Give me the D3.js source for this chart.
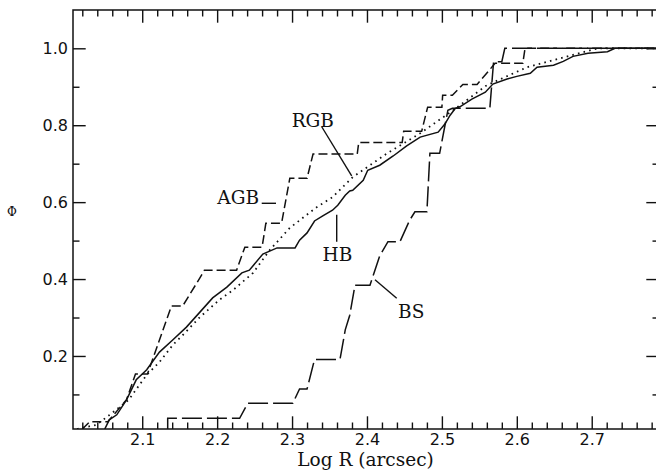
<!DOCTYPE html>
<html>
<head>
<meta charset="utf-8">
<script src="https://cdn.jsdelivr.net/npm/d3@7"></script>
<style>
  html, body { margin: 0; padding: 0; background: #fff; }
  svg { display: block; }
</style>
</head>
<body>
<svg id="chart" width="656" height="470"></svg>
<script>
// ---------------- data ----------------
const xMajorTicks = [2.1, 2.2, 2.3, 2.4, 2.5, 2.6, 2.7];
const xMinorTicks = [2.02, 2.04, 2.06, 2.08, 2.12, 2.14, 2.16, 2.18, 2.22, 2.24, 2.26, 2.28,
  2.32, 2.34, 2.36, 2.38, 2.42, 2.44, 2.46, 2.48, 2.52, 2.54, 2.56, 2.58,
  2.62, 2.64, 2.66, 2.68, 2.72, 2.74, 2.76, 2.78];
const yMajorTicks = [0.2, 0.4, 0.6, 0.8, 1.0];
const yMinorTicks = [0.1, 0.3, 0.5, 0.7, 0.9];

// RGB cumulative distribution (dotted)
const rgb = [[2.013,0.010],[2.039,0.021],[2.060,0.052],[2.082,0.086],[2.106,0.151],[2.123,0.184],
  [2.141,0.229],[2.157,0.260],[2.177,0.301],[2.203,0.346],[2.221,0.371],[2.248,0.416],
  [2.270,0.475],[2.297,0.533],[2.333,0.587],[2.354,0.613],[2.381,0.665],[2.427,0.727],
  [2.471,0.779],[2.515,0.839],[2.560,0.904],[2.614,0.951],[2.658,0.974],[2.702,0.997],
  [2.711,1.0],[2.79,1.0]];

// HB cumulative distribution (solid)
const hb = [[2.050,0.010],[2.056,0.034],[2.066,0.047],[2.079,0.086],[2.092,0.138],[2.106,0.164],
  [2.123,0.210],[2.141,0.242],[2.159,0.275],[2.177,0.314],[2.194,0.351],[2.213,0.379],
  [2.233,0.416],[2.243,0.423],[2.261,0.465],[2.280,0.481],[2.304,0.481],[2.310,0.501],
  [2.320,0.520],[2.330,0.551],[2.341,0.564],[2.354,0.579],[2.361,0.592],[2.371,0.618],
  [2.377,0.629],[2.381,0.631],[2.395,0.657],[2.401,0.683],[2.417,0.696],[2.435,0.720],
  [2.453,0.746],[2.471,0.769],[2.495,0.782],[2.504,0.803],[2.511,0.826],[2.518,0.844],
  [2.524,0.848],[2.540,0.868],[2.558,0.886],[2.568,0.907],[2.587,0.920],[2.600,0.927],
  [2.618,0.935],[2.627,0.951],[2.649,0.956],[2.662,0.966],[2.675,0.979],[2.695,0.987],
  [2.721,0.991],[2.731,1.0],[2.79,1.0]];

// AGB cumulative distribution (short dashes)
const agb = [[2.020,0.010],[2.030,0.029],[2.054,0.029],[2.079,0.086],[2.091,0.153],[2.107,0.153],
  [2.139,0.330],[2.154,0.330],[2.177,0.403],[2.183,0.423],[2.226,0.423],[2.237,0.483],
  [2.260,0.483],[2.265,0.545],[2.286,0.545],[2.297,0.662],[2.320,0.662],[2.328,0.725],
  [2.387,0.725],[2.389,0.755],[2.447,0.755],[2.449,0.784],[2.473,0.784],[2.481,0.847],
  [2.500,0.847],[2.501,0.878],[2.514,0.878],[2.528,0.906],[2.547,0.906],[2.571,0.961],
  [2.608,0.961],[2.611,1.0],[2.79,1.0]];

// BS cumulative distribution (long dashes)
const bs = [[2.134,0.010],[2.134,0.038],[2.230,0.038],[2.241,0.077],[2.301,0.077],[2.310,0.114],
  [2.320,0.114],[2.330,0.191],[2.364,0.191],[2.371,0.268],[2.377,0.306],[2.384,0.384],
  [2.404,0.384],[2.417,0.460],[2.428,0.497],[2.444,0.497],[2.457,0.553],[2.464,0.575],
  [2.480,0.575],[2.484,0.727],[2.497,0.727],[2.508,0.839],[2.514,0.844],[2.564,0.844],
  [2.569,0.965],[2.580,0.965],[2.584,1.0],[2.79,1.0]];

// annotation labels and leader lines [x1, y1, x2, y2] in data units
const labelTexts = ["RGB", "AGB", "HB", "BS"];
const labelPos = [[2.3277, 0.796], [2.2281, 0.595], [2.3605, 0.448], [2.4590, 0.299]];
const leaders = [[2.3396, 0.796, 2.3796, 0.668], [2.2595, 0.597, 2.2786, 0.597],
  [2.3596, 0.567, 2.3596, 0.497], [2.4107, 0.398, 2.4397, 0.350]];

// ---------------- drawing ----------------
const svg = d3.select("#chart");
const L = 73, R = 659, T = 10, B = 429;
const x = d3.scaleLinear().domain([2.0076, 2.7898]).range([L, R]);
const y = d3.scaleLinear().domain([0.0101, 1.0996]).range([B, T]);

svg.append("defs").append("clipPath").attr("id", "plotclip")
  .append("rect").attr("x", L).attr("y", T - 2).attr("width", R - L).attr("height", B - T + 2);

const MAJ = 12.7, MIN = 6.5;
function styleAxis(g) {
  g.select(".domain").remove();
  g.selectAll(".tick line").attr("stroke", "#111").attr("stroke-width", 1.4);
  g.selectAll(".tick text").attr("fill", "#111")
    .style("font-family", "'DejaVu Sans', sans-serif").style("font-size", "16px");
}
// bottom
svg.append("g").attr("transform", `translate(0,${B})`)
  .call(d3.axisBottom(x).tickValues(xMajorTicks).tickSize(-MAJ).tickPadding(4.5).tickFormat(d3.format(".1f")))
  .call(styleAxis);
svg.append("g").attr("transform", `translate(0,${B})`)
  .call(d3.axisBottom(x).tickValues(xMinorTicks).tickSize(-MIN).tickFormat(""))
  .call(styleAxis);
// top
svg.append("g").attr("transform", `translate(0,${T})`)
  .call(d3.axisTop(x).tickValues(xMajorTicks).tickSize(-MAJ).tickFormat(""))
  .call(styleAxis);
svg.append("g").attr("transform", `translate(0,${T})`)
  .call(d3.axisTop(x).tickValues(xMinorTicks).tickSize(-MIN).tickFormat(""))
  .call(styleAxis);
// left
svg.append("g").attr("transform", `translate(${L},0)`)
  .call(d3.axisLeft(y).tickValues(yMajorTicks).tickSize(-MAJ).tickPadding(5).tickFormat(d3.format(".1f")))
  .call(styleAxis);
svg.append("g").attr("transform", `translate(${L},0)`)
  .call(d3.axisLeft(y).tickValues(yMinorTicks).tickSize(-MIN).tickFormat(""))
  .call(styleAxis);
// right
svg.append("g").attr("transform", `translate(${R},0)`)
  .call(d3.axisRight(y).tickValues(yMajorTicks).tickSize(-MAJ).tickFormat(""))
  .call(styleAxis);
svg.append("g").attr("transform", `translate(${R},0)`)
  .call(d3.axisRight(y).tickValues(yMinorTicks).tickSize(-MIN).tickFormat(""))
  .call(styleAxis);

// frame
svg.append("rect").attr("x", L).attr("y", T).attr("width", R - L).attr("height", B - T)
  .attr("fill", "none").attr("stroke", "#111").attr("stroke-width", 1.5);

// curves
const line = d3.line().x(d => x(d[0])).y(d => y(d[1]));
const plot = svg.append("g").attr("clip-path", "url(#plotclip)");
plot.append("path").datum(rgb).attr("d", line).attr("fill", "none")
  .attr("stroke", "#111").attr("stroke-width", 1.8).attr("stroke-dasharray", "1.6,4.2");
plot.append("path").datum(hb).attr("d", line).attr("fill", "none")
  .attr("stroke", "#111").attr("stroke-width", 1.5);
plot.append("path").datum(agb).attr("d", line).attr("fill", "none")
  .attr("stroke", "#111").attr("stroke-width", 1.5).attr("stroke-dasharray", "9,4");
plot.append("path").datum(bs).attr("d", line).attr("fill", "none")
  .attr("stroke", "#111").attr("stroke-width", 1.5).attr("stroke-dasharray", "20,5");

// leader lines
svg.append("g").selectAll("line").data(leaders).join("line")
  .attr("x1", d => x(d[0])).attr("y1", d => y(d[1]))
  .attr("x2", d => x(d[2])).attr("y2", d => y(d[3]))
  .attr("stroke", "#111").attr("stroke-width", 1.4);

// labels
svg.append("g").selectAll("text").data(labelTexts).join("text")
  .attr("x", (d, i) => x(labelPos[i][0])).attr("y", (d, i) => y(labelPos[i][1]))
  .attr("text-anchor", "middle").attr("fill", "#111")
  .style("font-family", "'DejaVu Serif', serif").style("font-size", "18.5px")
  .text(d => d);

// axis titles
svg.append("text").attr("x", (L + R) / 2 - 0.5).attr("y", 465.5).attr("text-anchor", "middle")
  .attr("fill", "#111").style("font-family", "'DejaVu Serif', serif").style("font-size", "18.5px")
  .text("Log R (arcsec)");
svg.append("text").attr("x", 12).attr("y", 216).attr("text-anchor", "middle")
  .attr("fill", "#111").style("font-family", "'DejaVu Serif', serif").style("font-size", "12px")
  .text("Φ");
</script>
</body>
</html>
